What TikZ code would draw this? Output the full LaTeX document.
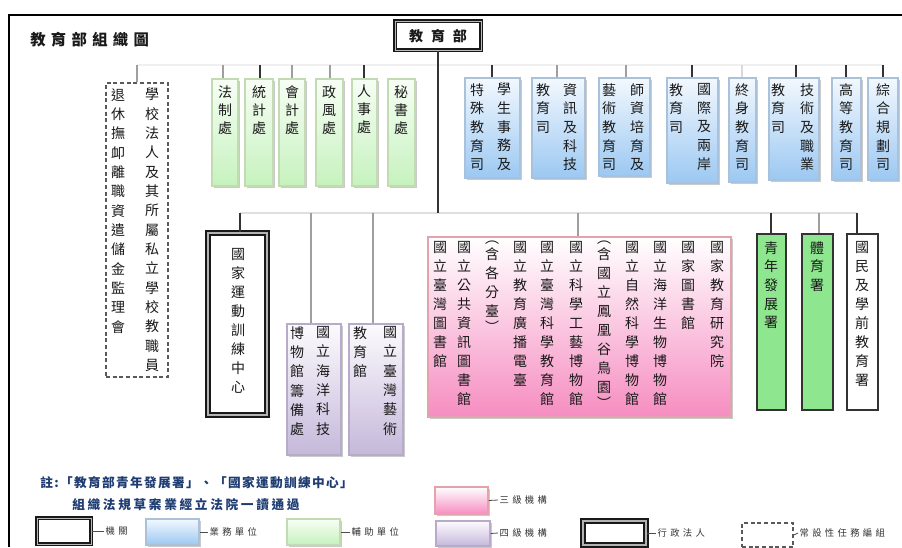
\documentclass[tikz,border=0pt]{standalone}
\usepackage{fontspec}
\newfontfamily\cjk{Noto Sans CJK TC}
\usetikzlibrary{fit,shadows}
\definecolor{blueTop}{HTML}{F2F8FE}
\definecolor{blueBot}{HTML}{9CC8F2}
\definecolor{blueBorder}{HTML}{A9C1DB}
\definecolor{greenTop}{HTML}{F7FEF5}
\definecolor{greenBot}{HTML}{C6F2BE}
\definecolor{greenBorder}{HTML}{C3DBB2}
\definecolor{pinkMid}{HTML}{FBD3E6}
\definecolor{pinkBot}{HTML}{F68DC1}
\definecolor{pinkBorder}{HTML}{E2A3AD}
\definecolor{purpTop}{HTML}{FCFBFE}
\definecolor{purpBot}{HTML}{C5B8DA}
\definecolor{purpBorder}{HTML}{B7ABC9}
\definecolor{greenFill}{HTML}{8EE68E}
\definecolor{noteBlue}{HTML}{1E3C72}
\definecolor{txt}{HTML}{1A1A1A}
\ExplSyntaxOn
\NewDocumentCommand\vt{m}{
  \seq_clear:N \l_tmpa_seq
  \tl_map_inline:nn {#1}{\seq_put_right:Nn \l_tmpa_seq {##1}}
  \seq_use:Nn \l_tmpa_seq {\\}
}
\NewDocumentCommand\spc{mm}{
  \seq_clear:N \l_tmpb_seq
  \tl_map_inline:nn {#2}{\seq_put_right:Nn \l_tmpb_seq {##1}}
  \seq_use:Nn \l_tmpb_seq {\hspace{#1}}
}
\ExplSyntaxOff
\newcommand\bx[3]{\node[#1, inner sep=0pt, fit={#3}] (#2) {};}
\begin{document}
\begin{tikzpicture}[x=0.75pt,y=-0.75pt,
  col/.style={align=center, inner sep=0pt, anchor=north, text=txt, font=\cjk\fontsize{10.5pt}{#1}\selectfont},
  shad/.style={drop shadow={shadow xshift=1.3pt, shadow yshift=-1.3pt, fill=black!35, opacity=0.6}},
  unitblue/.style={shad, draw=blueBorder, line width=0.9pt, top color=blueTop, bottom color=blueBot},
  unitgreen/.style={shad, draw=greenBorder, line width=0.9pt, top color=greenTop, bottom color=greenBot},
  inst3/.style={shad, draw=pinkBorder, line width=0.9pt, top color=white, middle color=pinkMid, bottom color=pinkBot},
  inst4/.style={shad, draw=purpBorder, line width=0.9pt, top color=purpTop, bottom color=purpBot},
  legal/.style={draw=black!90, fill=white, line width=1.1pt, double=gray!60, double distance=1.8pt},
  agency/.style={draw=black!90, fill=white, line width=0.9pt, double=gray!55, double distance=0.7pt},
  taskforce/.style={draw=black!65, fill=white, line width=1.1pt, dash pattern=on 3pt off 2pt},
  greenadmin/.style={draw=black!80, fill=greenFill, line width=2pt},
  whiteadmin/.style={draw=black!80, fill=white, line width=2pt},
  stubD/.style={draw=black!80, line width=1.1pt},
  stubG/.style={draw=gray!75, line width=1.4pt},
  stubL/.style={draw=gray!30, line width=1.1pt},
  busline/.style={draw=gray!25, line width=1.2pt},
  faintbus/.style={draw=gray!12, line width=1pt},
  legline/.style={draw=black!70, line width=0.6pt},
  leglab/.style={anchor=west, inner sep=1pt, text=black!80, font=\cjk\fontsize{7pt}{8pt}\selectfont},
  note/.style={anchor=west, inner sep=0pt, text=noteBlue, font=\cjk\bfseries\fontsize{9.5pt}{11pt}\selectfont}
]
\useasboundingbox (0,0) rectangle (902,547);
% frame
\draw[line width=1.5pt, black] (9,547) -- (9,15) -- (902,15);
% title
\node[anchor=west, inner sep=0pt, text=txt, font=\cjk\bfseries\fontsize{11.5pt}{13pt}\selectfont] (title) at (30,40) {\spc{4pt}{教育部組織圖}};
% ministry
\bx{agency}{moe}{(395,21) (481,50)}
\node[inner sep=0pt, text=txt, font=\cjk\bfseries\fontsize{10.5pt}{12pt}\selectfont] (moeT) at (438,36) {\spc{6pt}{教育部}};
% buses
\coordinate (ub1) at (137,65);
\coordinate (ub2) at (883,65);
\draw[faintbus] (ub1) -- (ub2);
\coordinate (lb1) at (240,213);
\coordinate (lb2) at (857,213);
\draw[busline] (lb1) -- (lb2);
\draw[stubD] (moe.south) -- (moe.south |- lb1);
% task force (dashed)
\bx{taskforce}{tf}{(106,83) (168,377)}
\node[col=14.5pt] (tfA) at (152,88) {\vt{學校法人及其所屬私立學校教職員}};
\node[col=14.5pt] (tfB) at (118,88) {\vt{退休撫卹離職資遣儲金監理會}};
\coordinate (sTf) at (137,65);
\draw[stubG] (sTf) -- (sTf |- tf.north);
% green auxiliary units
\bx{unitgreen}{g1}{(212,79) (238,186)}
\bx{unitgreen}{g2}{(245,79) (273,186)}
\bx{unitgreen}{g3}{(279,79) (305,186)}
\bx{unitgreen}{g4}{(316,79) (343,186)}
\bx{unitgreen}{g5}{(352,79) (377,186)}
\bx{unitgreen}{g6}{(388,79) (415,186)}
\node[col=13.5pt] (g1t) at (225,85) {\vt{法制處}};
\node[col=13.5pt] (g2t) at (259,85) {\vt{統計處}};
\node[col=13.5pt] (g3t) at (292,85) {\vt{會計處}};
\node[col=13.5pt] (g4t) at (329,85) {\vt{政風處}};
\node[col=13.5pt] (g5t) at (364,85) {\vt{人事處}};
\node[col=13.5pt] (g6t) at (401,85) {\vt{秘書處}};
\coordinate (s1) at (223,65);
\coordinate (s2) at (260,65);
\coordinate (s3) at (292,65);
\coordinate (s4) at (330,65);
\coordinate (s5) at (364,65);
\draw[stubG] (s1) -- (s1 |- g1.north);
\draw[stubD] (s2) -- (s2 |- g2.north);
\draw[stubG] (s3) -- (s3 |- g3.north);
\draw[stubG] (s4) -- (s4 |- g4.north);
\draw[stubD] (s5) -- (s5 |- g5.north);
% blue business units
\bx{unitblue}{b1}{(465,78) (520,178)}
\bx{unitblue}{b2}{(532,78) (585,178)}
\bx{unitblue}{b3}{(599,78) (650,176)}
\bx{unitblue}{b4}{(667,78) (718,183)}
\bx{unitblue}{b5}{(729,78) (756,182)}
\bx{unitblue}{b6}{(769,78) (819,180)}
\bx{unitblue}{b7}{(832,78) (861,180)}
\bx{unitblue}{b8}{(868,78) (898,180)}
\node[col=14pt] (b1a) at (504,83) {\vt{學生事務及}};
\node[col=14pt] (b1b) at (477,83) {\vt{特殊教育司}};
\node[col=14pt] (b2a) at (570,83) {\vt{資訊及科技}};
\node[col=14pt] (b2b) at (543,83) {\vt{教育司}};
\node[col=14pt] (b3a) at (637,83) {\vt{師資培育及}};
\node[col=14pt] (b3b) at (609,83) {\vt{藝術教育司}};
\node[col=14pt] (b4a) at (704,83) {\vt{國際及兩岸}};
\node[col=14pt] (b4b) at (676,83) {\vt{教育司}};
\node[col=14pt] (b5a) at (742,83) {\vt{終身教育司}};
\node[col=14pt] (b6a) at (807,83) {\vt{技術及職業}};
\node[col=14pt] (b6b) at (778,83) {\vt{教育司}};
\node[col=14pt] (b7a) at (846,83) {\vt{高等教育司}};
\node[col=14pt] (b8a) at (883,83) {\vt{綜合規劃司}};
\coordinate (t1) at (492,65);
\coordinate (t2) at (557,65);
\coordinate (t3) at (626,65);
\coordinate (t4) at (692,65);
\coordinate (t5) at (742,65);
\coordinate (t6) at (796,65);
\coordinate (t7) at (846,65);
\coordinate (t8) at (883,65);
\draw[stubD] (t1) -- (t1 |- b1.north);
\draw[stubG] (t2) -- (t2 |- b2.north);
\draw[stubG] (t3) -- (t3 |- b3.north);
\draw[stubD] (t4) -- (t4 |- b4.north);
\draw[stubL] (t5) -- (t5 |- b5.north);
\draw[stubD] (t6) -- (t6 |- b6.north);
\draw[stubD] (t7) -- (t7 |- b7.north);
\draw[stubD] (t8) -- (t8 |- b8.north);
% lower row
\bx{legal}{nstc}{(208,233) (267,415)}
\node[col=14.25pt] (nstcT) at (238,248) {\vt{國家運動訓練中心}};
\coordinate (u1) at (240,213);
\draw[stubD] (u1) -- (u1 |- nstc.north);
\bx{inst4}{p1}{(287,324) (341,455)}
\bx{inst4}{p2}{(349,324) (403,455)}
\node[col=14.5pt] (p1a) at (323,326) {\vt{國立海洋科技}};
\node[col=14.5pt] (p1b) at (297,326) {\vt{博物館籌備處}};
\node[col=14.5pt] (p2a) at (390,326) {\vt{國立臺灣藝術}};
\node[col=14.5pt] (p2b) at (360,326) {\vt{教育館}};
\coordinate (u2) at (311,213);
\coordinate (u3) at (373,213);
\draw[stubG] (u2) -- (u2 |- p1.north);
\draw[stubG] (u3) -- (u3 |- p2.north);
\bx{inst3}{pk}{(428,237) (731,417)}
\node[col=14.25pt] (k1) at (717,241) {\vt{國家教育研究院}};
\node[col=14.25pt] (k2) at (688,241) {\vt{國家圖書館}};
\node[col=14.25pt] (k3) at (660,241) {\vt{國立海洋生物博物館}};
\node[col=14.25pt] (k4) at (632,241) {\vt{國立自然科學博物館}};
\node[col=14.25pt] (k5) at (604,241) {︵\\[-2.5pt]含\\國\\立\\鳳\\凰\\谷\\鳥\\園\\[-2.5pt]︶};
\node[col=14.25pt] (k6) at (576,241) {\vt{國立科學工藝博物館}};
\node[col=14.25pt] (k7) at (547,241) {\vt{國立臺灣科學教育館}};
\node[col=14.25pt] (k8) at (520,241) {\vt{國立教育廣播電臺}};
\node[col=14.25pt] (k9) at (492,241) {︵\\[-2.5pt]含\\各\\分\\臺\\[-2.5pt]︶};
\node[col=14.25pt] (k10) at (464,241) {\vt{國立公共資訊圖書館}};
\node[col=14.25pt] (k11) at (440,241) {\vt{國立臺灣圖書館}};
\coordinate (u4) at (578,213);
\draw[stubG] (u4) -- (u4 |- pk.north);
\bx{greenadmin}{a1}{(757,234) (786,410)}
\bx{greenadmin}{a2}{(802,234) (833,410)}
\bx{whiteadmin}{a3}{(847,234) (878,410)}
\node[col=14pt] (a1t) at (771,241) {\vt{青年發展署}};
\node[col=14pt] (a2t) at (817,241) {\vt{體育署}};
\node[col=14.25pt] (a3t) at (862,241) {\vt{國民及學前教育署}};
\coordinate (u5) at (771,213);
\coordinate (u6) at (819,213);
\coordinate (u7) at (857,213);
\draw[stubD] (u5) -- (u5 |- a1.north);
\draw[stubG] (u6) -- (u6 |- a2.north);
\draw[stubD] (u7) -- (u7 |- a3.north);
% note
\node[note] (n1) at (40,483) {\spc{1pt}{註:「教育部青年發展署」、「國家運動訓練中心」}};
\node[note] (n2) at (72,505) {\spc{2pt}{組織法規草案業經立法院一讀通過}};
% legend
\bx{inst3}{L1}{(435,487) (488,514)}
\node[leglab] (L1t) at (498,500) {\spc{2.5pt}{三級機構}};
\draw[legline] (L1.east) -- (L1t.west);
\bx{agency}{L2}{(37,518) (91,544)}
\node[leglab] (L2t) at (104,531) {\spc{2.5pt}{機關}};
\draw[legline] (L2.east) -- (L2t.west);
\bx{unitblue}{L3}{(146,519) (199,545)}
\node[leglab] (L3t) at (208,532) {\spc{2.5pt}{業務單位}};
\draw[legline] (L3.east) -- (L3t.west);
\bx{unitgreen}{L4}{(287,519) (340,545)}
\node[leglab] (L4t) at (350,532) {\spc{2.5pt}{輔助單位}};
\draw[legline] (L4.east) -- (L4t.west);
\bx{inst4}{L5}{(436,521) (490,546)}
\node[leglab] (L5t) at (498,533) {\spc{2.5pt}{四級機構}};
\draw[legline] (L5.east) -- (L5t.west);
\bx{legal}{L6}{(583,521) (646,545)}
\node[leglab] (L6t) at (656,533) {\spc{2.5pt}{行政法人}};
\draw[legline] (L6.east) -- (L6t.west);
\bx{taskforce}{L7}{(742,523) (793,547)}
\node[leglab] (L7t) at (798,533) {\spc{2.5pt}{常設性任務編組}};
\draw[legline] (L7.east) -- (L7t.west);
\end{tikzpicture}
\end{document}
